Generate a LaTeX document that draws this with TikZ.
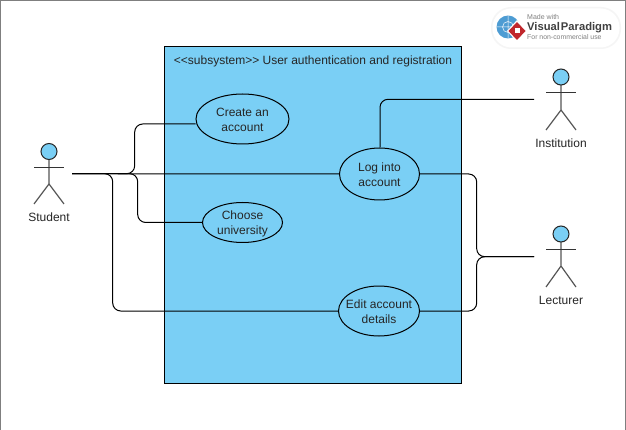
\documentclass[tikz,border=0pt]{standalone}
\usepackage{fontspec}
\setmainfont{Liberation Sans}
\usetikzlibrary{shapes.geometric}
\pgfdeclarelayer{syslayer}
\pgfdeclarelayer{connlayer}
\pgfsetlayers{syslayer,connlayer,main}
\definecolor{fillblue}{HTML}{7ACFF5}
\definecolor{limbgray}{HTML}{555555}
\definecolor{framegray}{HTML}{7F7F7F}
\definecolor{logored}{HTML}{C0272D}
\definecolor{logoblue}{HTML}{4D9CD3}
\newcommand{\dn}[1]{\raisebox{-1pt}[\height][\depth]{#1}}
\tikzset{
  usecase/.style={ellipse,draw=black,line width=1pt,fill=fillblue,inner sep=-12pt,align=center,font=\fontsize{12}{15}\selectfont,text=black!85},
  conn/.style={draw=black,line width=1pt,rounded corners=8pt},
  head/.style={circle,draw=black!85,line width=1pt,fill=fillblue,minimum size=16pt,inner sep=0pt},
  limb/.style={draw=limbgray,line width=1.2pt},
  arm/.style={draw=black!80,line width=1pt},
  actorlabel/.style={font=\fontsize{12}{15}\selectfont,text=black!85}
}
\begin{document}
\begin{tikzpicture}[x=1pt,y=-1pt]
\useasboundingbox (0,0) rectangle (626,430);
\begin{pgfonlayer}{syslayer}
\fill[white] (0,0) rectangle (626,430);
\draw[framegray,line width=1.2pt] (0.5,430) -- (0.5,0.5) -- (625.5,0.5) -- (625.5,430);
\node[draw=black,line width=1pt,fill=fillblue,minimum width=297pt,minimum height=336pt,inner sep=0pt] (sys) at (313,215) {};
\end{pgfonlayer}
\node[actorlabel] (systitle) at (313,61.2) {<{}<subsystem>{}> User authentication and registration};
% use cases
\node[usecase,minimum width=93pt,minimum height=50pt] (create) at (242.5,119) {\dn{Create an}\\\dn{account}};
\node[usecase,minimum width=80pt,minimum height=52pt] (login) at (379.5,174) {\dn{Log into}\\\dn{account}};
\node[usecase,minimum width=80pt,minimum height=40pt] (choose) at (242.5,222.5) {\dn{Choose}\\\dn{university}};
\node[usecase,minimum width=81pt,minimum height=50pt] (edit) at (379,311) {\dn{Edit account}\\\dn{details}};
% connector ends
\coordinate (st) at (72,173.7);
\coordinate (inst) at (534,99.3);
\coordinate (lect) at (534,256.7);
% connectors
\begin{pgfonlayer}{connlayer}
\draw[conn] (st) -- (134.7,173.7) -- (134.7,124) -- (create.west |- 0,124);
\draw[conn] (st) -- (login.west);
\draw[conn] (st) -- (137.7,173.7) -- (137.7,222.5) -- (choose.west);
\draw[conn] (st) -- (112.7,173.7) -- (112.7,311) -- (edit.west);
\draw[conn] (inst) -- (380,99.3) -- (login.north -| 380,0);
\draw[conn] (login.east) -- (476.7,174) -- (476.7,256.7) -- (lect);
\draw[conn] (edit.east) -- (476.7,311) -- (476.7,256.7) -- (lect);
\end{pgfonlayer}
% Student
\draw[limb] (49,159) -- (49,184) (34,204) -- (49,184) -- (64,204);
\draw[arm] (34,168) -- (64,168);
\node[head] (studenthead) at (49,151.5) {};
\node[actorlabel] (student) at (49,217.5) {Student};
% Institution
\draw[limb] (561,85) -- (561,110) (546,130) -- (561,110) -- (576,130);
\draw[arm] (546,93) -- (576,93);
\node[head] (insthead) at (561,77) {};
\node[actorlabel] (institution) at (561,143) {Institution};
% Lecturer
\draw[limb] (561,242) -- (561,266) (546,287) -- (561,266) -- (576,287);
\draw[arm] (546,250) -- (576,250);
\node[head] (lecthead) at (561,234) {};
\node[actorlabel] (lecturer) at (561,300) {Lecturer};
% logo
\fill[black!4,rounded corners=20pt] (491,7) rectangle (621,49);
\fill[white,rounded corners=19pt] (492.5,8.5) rectangle (619.5,47.5);
\fill[logoblue] (508,27) circle (11.5pt);
\draw[white,line width=.5pt] (508,27) circle (5.5pt) (496.5,27) -- (519.5,27) (508,15.5) -- (508,38.5);
\fill[white] (517,20) -- (527,31) -- (517,42) -- (507,31) -- cycle;
\fill[logored] (517,22) -- (525.5,31) -- (517,40) -- (508.5,31) -- cycle;
\fill[white] (514.5,28) rectangle (519.5,33);
\node[anchor=west,inner sep=0pt,font=\fontsize{7}{8}\selectfont,text=black!50] (made) at (527,17.5) {Made with};
\node[anchor=west,inner sep=0pt,font=\bfseries\fontsize{11.2}{14}\selectfont,text=black!75] (vp) at (527,27.5) {Visual\hspace{1pt}Paradigm};
\node[anchor=west,inner sep=0pt,font=\fontsize{6.9}{8}\selectfont,text=black!50] (nc) at (527,37.5) {For non-commercial use};
\end{tikzpicture}
\end{document}
